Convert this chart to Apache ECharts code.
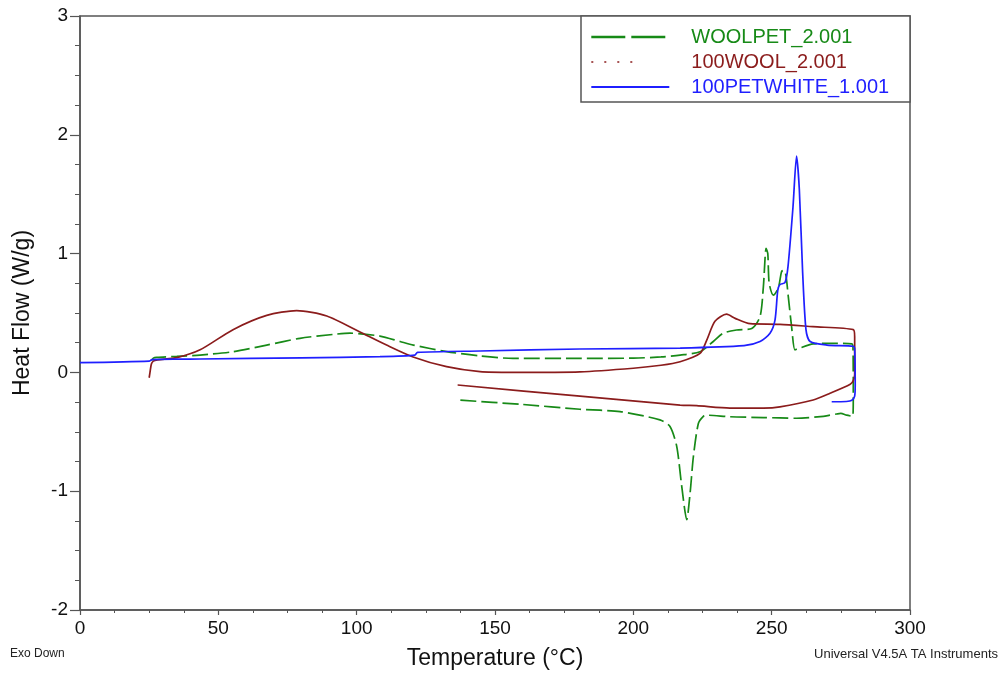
<!DOCTYPE html>
<html>
<head>
<meta charset="utf-8">
<script src="https://cdn.jsdelivr.net/npm/echarts@6/dist/echarts.min.js"></script>
<style>
html,body{margin:0;padding:0;background:#fff;}
#chart{width:1002px;height:677px;}
</style>
</head>
<body>
<div id="chart"></div>
<script>
// Tick settings
var xTicks = {min: 0, max: 300, interval: 50};
var yTicks = {min: -2, max: 3, interval: 1};

var seriesNames = ['WOOLPET_2.001', '100WOOL_2.001', '100PETWHITE_1.001'];

// [Temperature (°C), Heat Flow (W/g)]
var woolpetData = [
  [25.8,0.10],[26.5,0.12],[27.7,0.127],[35,0.135],[43.4,0.146],[55.4,0.174],[67.5,0.23],
  [79.5,0.287],[91.6,0.32],[97.6,0.33],[108.4,0.306],[115.7,0.26],[120.5,0.23],[132.5,0.175],
  [144.6,0.138],[156.5,0.118],[180.7,0.118],[200,0.12],[210,0.13],[216.9,0.146],[224.1,0.174],
  [228.9,0.26],[232.5,0.33],[237.3,0.357],[242.8,0.37],[245.8,0.47],[247,0.72],[248,1.045],
  [248.6,1.0],[249.1,0.75],[250.6,0.65],[252.4,0.71],[253.6,0.85],[254.5,0.86],[255.2,0.81],
  [256,0.64],[257.2,0.385],[258.4,0.19],[259.6,0.2],[265,0.24],[272,0.245],[279,0.24],
  [279.4,0.2],[279.5,-0.2],[279.3,-0.37],[277.1,-0.36],[275,-0.345],[273.5,-0.35],[271,-0.36],
  [268.7,-0.37],[259,-0.386],[247,-0.38],[234.9,-0.373],[226.5,-0.36],[225.3,-0.37],[223.5,-0.43],
  [221.7,-0.71],[220.5,-1.02],[219.3,-1.24],[217.5,-0.96],[215.7,-0.625],[213.3,-0.457],
  [209.6,-0.4],[195.2,-0.33],[180.7,-0.31],[160,-0.27],[136.2,-0.232]
];
var woolData = [
  [25,-0.045],[25.3,0.0],[25.8,0.07],[26.5,0.095],[28,0.105],[35,0.125],[43.4,0.19],[55.3,0.36],
  [67.5,0.48],[78.3,0.52],[89.2,0.475],[101.2,0.34],[110.8,0.23],[120.4,0.13],[132.5,0.048],
  [144.6,0.006],[156.5,0.0],[180.7,0.005],[200,0.035],[210,0.06],[216.9,0.09],[224.1,0.16],
  [226.5,0.27],[229.5,0.43],[233.7,0.49],[236.8,0.455],[242.2,0.41],[253,0.405],[264.9,0.385],
  [279.5,0.36],[280,0.3],[280,-0.02],[279.5,-0.07],[278.4,-0.1],[271.1,-0.176],[265,-0.232],
  [253,-0.29],[247,-0.3],[234.9,-0.3],[222.9,-0.28],[216.9,-0.275],[180.7,-0.2],[136.5,-0.106]
];
var petData = [
  [0,0.082],[25,0.095],[26,0.108],[36,0.112],[43.4,0.113],[80,0.122],[108.4,0.132],[121,0.145],
  [122,0.168],[144.6,0.18],[180.7,0.197],[216.9,0.205],[240,0.225],[245.8,0.26],[249.4,0.33],
  [251.2,0.44],[252.2,0.69],[253,0.74],[254.8,0.755],[255.9,0.89],[257.7,1.39],[259,1.82],
  [260,1.54],[261.2,0.84],[262.4,0.36],[263.9,0.26],[270,0.23],[279.5,0.22],[280,0.2],
  [280.2,-0.1],[280,-0.2],[279,-0.235],[277,-0.245],[271.7,-0.247]
];

var colors = ['#178a17', '#8b1c1c', '#1f1fff'];
var FONT = '"Liberation Sans", Arial, sans-serif';
var axisColor = '#555';

var chart = echarts.init(document.getElementById('chart'));
chart.setOption({
  animation: false,
  backgroundColor: '#fff',
  textStyle: {fontFamily: FONT},
  grid: {left: 80, right: 92, top: 16, bottom: 67, show: true, borderColor: axisColor, borderWidth: 1.5},
  xAxis: {
    type: 'value', min: xTicks.min, max: xTicks.max, interval: xTicks.interval,
    name: 'Temperature (°C)', nameLocation: 'middle', nameGap: 37,
    nameTextStyle: {fontSize: 23, color: '#111', fontFamily: FONT},
    axisLine: {onZero: false, lineStyle: {color: axisColor, width: 1.5}},
    axisTick: {length: 5, lineStyle: {color: axisColor, width: 1.2}},
    minorTick: {show: true, splitNumber: 4, length: 3, lineStyle: {color: axisColor, width: 1}},
    axisLabel: {fontSize: 19, color: '#111', margin: 9, fontFamily: FONT},
    splitLine: {show: false}
  },
  yAxis: {
    type: 'value', min: yTicks.min, max: yTicks.max, interval: yTicks.interval,
    name: 'Heat Flow (W/g)', nameLocation: 'middle', nameGap: 46,
    nameTextStyle: {fontSize: 23, color: '#111', fontFamily: FONT},
    axisLine: {onZero: false, lineStyle: {color: axisColor, width: 1.5}},
    axisTick: {length: 10, lineStyle: {color: axisColor, width: 1.2}},
    minorTick: {show: true, splitNumber: 4, length: 5, lineStyle: {color: axisColor, width: 1}},
    axisLabel: {fontSize: 19, color: '#111', margin: 12, fontFamily: FONT},
    splitLine: {show: false}
  },
  legend: {
    left: 590, top: 27, orient: 'vertical', itemWidth: 78, itemHeight: 14, itemGap: 5,
    padding: 0, selectedMode: false,
    textStyle: {fontSize: 20, fontFamily: FONT, padding: [0, 0, 0, 17]},
    data: [
      {name: seriesNames[0], textStyle: {color: colors[0]}, itemStyle: {opacity: 0},
       lineStyle: {type: [34, 6], width: 2.6}},
      {name: seriesNames[1], textStyle: {color: colors[1]}, itemStyle: {opacity: 0},
       lineStyle: {type: [2, 11, 2, 11, 2, 11, 2, 60], width: 1.6}},
      {name: seriesNames[2], textStyle: {color: colors[2]}, itemStyle: {opacity: 0},
       lineStyle: {type: 'solid', width: 1.8}}
    ]
  },
  graphic: [
    {type: 'rect', z: 3, shape: {x: 581, y: 16, width: 329, height: 86},
     style: {fill: '#fff', stroke: axisColor, lineWidth: 1.5}},
    {type: 'text', left: 10, top: 648, style: {text: 'Exo Down', font: '12px ' + FONT, fill: '#222'}},
    {type: 'text', right: 4, top: 648, style: {text: 'Universal V4.5A TA Instruments', font: '13px ' + FONT, fill: '#222'}}
  ],
  series: [
    {name: seriesNames[0], type: 'line', data: woolpetData, symbol: 'none', smooth: 0.25,
     lineStyle: {color: colors[0], width: 1.7, type: [16, 5]}, itemStyle: {color: colors[0]}},
    {name: seriesNames[1], type: 'line', data: woolData, symbol: 'none', smooth: 0.25,
     lineStyle: {color: colors[1], width: 1.7}, itemStyle: {color: colors[1]}},
    {name: seriesNames[2], type: 'line', data: petData, symbol: 'none', smooth: 0.25,
     lineStyle: {color: colors[2], width: 1.7}, itemStyle: {color: colors[2]}}
  ]
});
</script>
</body>
</html>
